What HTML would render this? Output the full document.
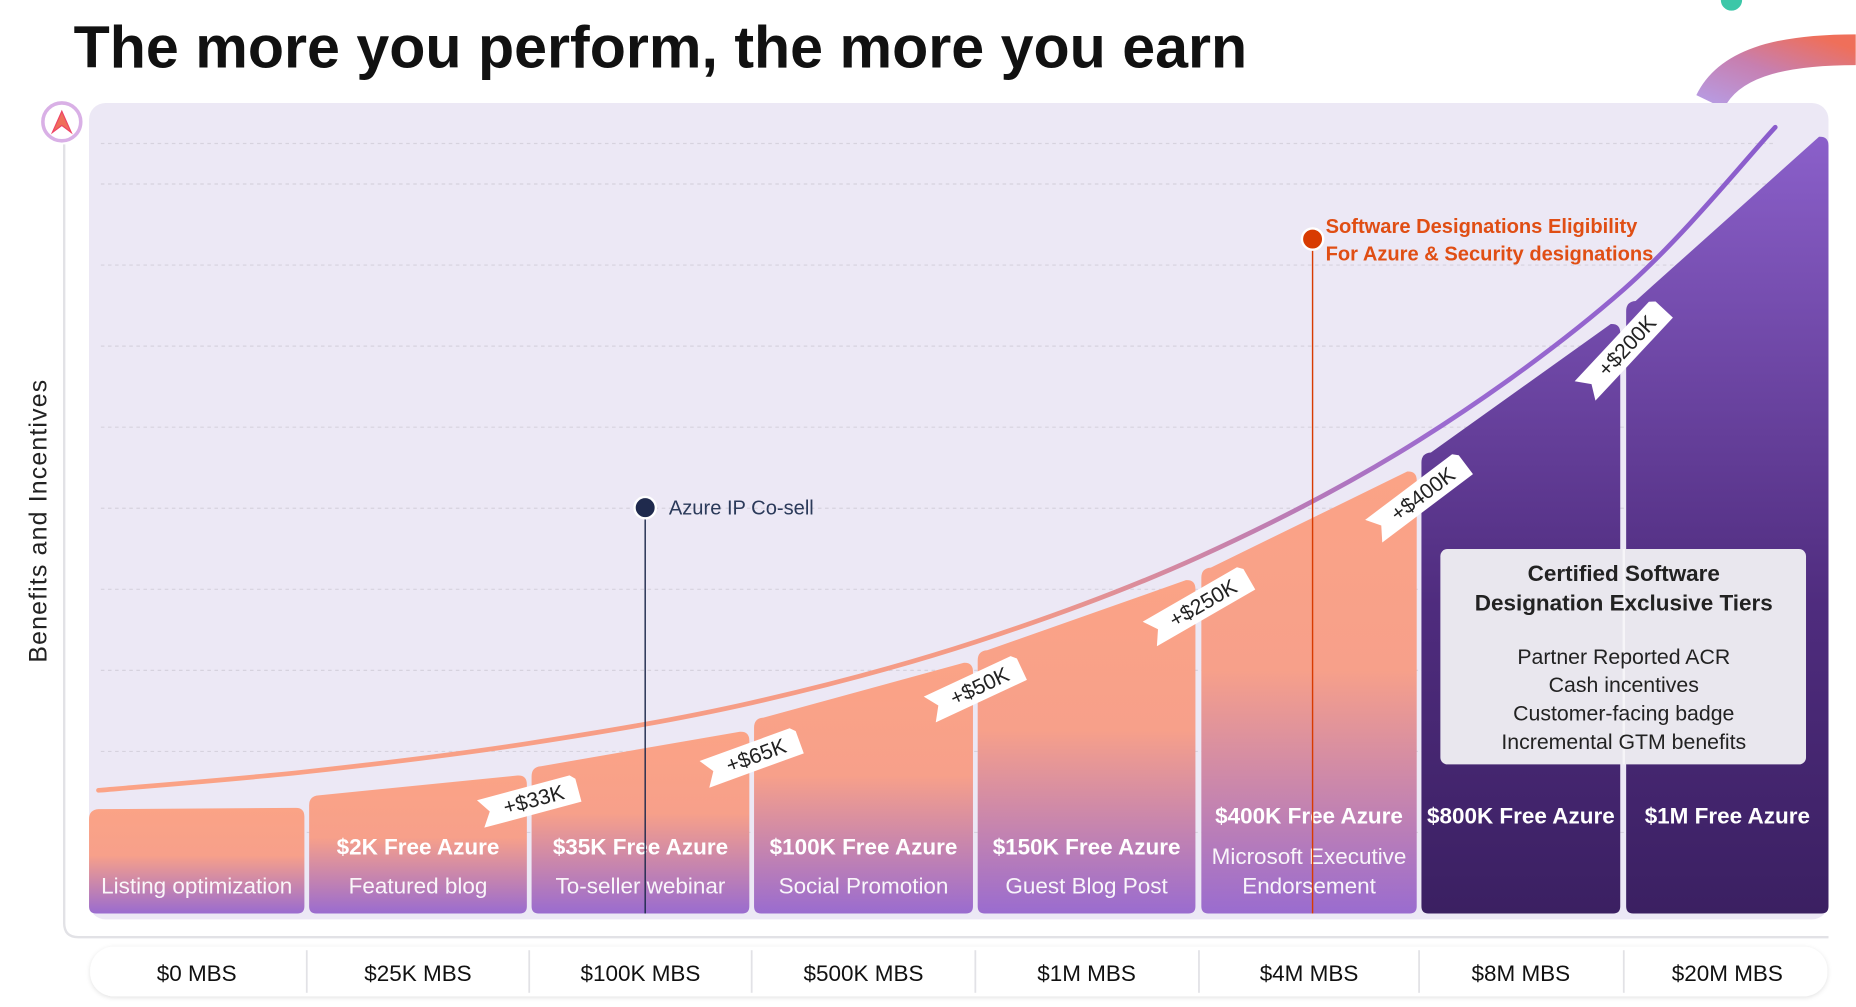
<!DOCTYPE html>
<html><head><meta charset="utf-8"><style>
html,body{margin:0;padding:0;background:#fff;width:1856px;height:1007px;overflow:hidden}
svg text{font-family:"Liberation Sans",sans-serif}
</style></head><body>
<svg id="chart" width="1856" height="1007" viewBox="0 0 1568 851" xmlns="http://www.w3.org/2000/svg">
<defs>
<linearGradient id="gOr" x1="0" y1="0" x2="0" y2="1"><stop offset="0" stop-color="#fba386"/><stop offset="0.45" stop-color="#f7a08a"/><stop offset="1" stop-color="#9a6ccf"/></linearGradient>
<linearGradient id="gPu" gradientUnits="userSpaceOnUse" x1="0" y1="120" x2="0" y2="772"><stop offset="0" stop-color="#8a5fc9"/><stop offset="0.6" stop-color="#4f2c7e"/><stop offset="1" stop-color="#3b2062"/></linearGradient>
<linearGradient id="gLine" gradientUnits="userSpaceOnUse" x1="83" y1="0" x2="1500" y2="0"><stop offset="0" stop-color="#fba386"/><stop offset="0.55" stop-color="#f49a86"/><stop offset="0.8" stop-color="#9b6ad0"/><stop offset="1" stop-color="#8a5ccc"/></linearGradient>
<linearGradient id="gDeco" x1="0" y1="1" x2="1" y2="0"><stop offset="0" stop-color="#b89ae0"/><stop offset="0.5" stop-color="#c77fb0"/><stop offset="1" stop-color="#ef6f5a"/></linearGradient>
<filter id="sh" x="-5%" y="-30%" width="110%" height="160%"><feDropShadow dx="0" dy="1" stdDeviation="2" flood-color="#000" flood-opacity="0.12"/></filter>
</defs>
<text x="62" y="57" font-size="50" font-weight="600" fill="#111">The more you perform, the more you earn</text>
<path d="M1445 86 C1460 55 1500 42 1568 42" stroke="url(#gDeco)" stroke-width="26" fill="none"/>
<circle cx="1463" cy="0" r="9" fill="#3cc7a8"/>
<rect x="75" y="87" width="1470" height="690" rx="14" fill="#ece8f5"/>
<path d="M54 122 L54 780 Q54 792 66 792 L1545 792" stroke="#e2e2e6" stroke-width="2" fill="none"/>
<circle cx="52" cy="103" r="16" fill="#fff" stroke="#d9b0e6" stroke-width="3"/>
<path d="M44 112 L52 94 L60 112 L52 106 Z" fill="#ef6f5a" stroke="#e46" stroke-width="1"/>
<text transform="translate(39,440) rotate(-90)" text-anchor="middle" font-size="21" letter-spacing="1" fill="#222">Benefits and Incentives</text>
<g id="grid"></g><g id="cols"></g><g id="curve"></g><g id="ann"></g><g id="ribbons"></g><g id="xaxis"></g>
<g>
<rect x="1217" y="464" width="309" height="182" rx="6" fill="#e9e7ee"/>
<line x1="1372" y1="464" x2="1372" y2="646" stroke="#fff" stroke-width="2" opacity="0.6"/>
<g text-anchor="middle" fill="#222">
<text x="1372" y="491" font-size="19" font-weight="600">Certified Software</text>
<text x="1372" y="516" font-size="19" font-weight="600">Designation Exclusive Tiers</text>
<text x="1372" y="561" font-size="18">Partner Reported ACR</text>
<text x="1372" y="585" font-size="18">Cash incentives</text>
<text x="1372" y="609" font-size="18">Customer-facing badge</text>
<text x="1372" y="633" font-size="18">Incremental GTM benefits</text>
</g></g>
</svg>
<script>
const tiers=["$0 MBS","$25K MBS","$100K MBS","$500K MBS","$1M MBS","$4M MBS","$8M MBS","$20M MBS"];
const azureCredits=["","$2K Free Azure","$35K Free Azure","$100K Free Azure","$150K Free Azure","$400K Free Azure","$800K Free Azure","$1M Free Azure"];
const benefits=["Listing optimization","Featured blog","To-seller webinar","Social Promotion","Guest Blog Post","Microsoft Executive Endorsement","",""];
const levelLeft=[12.8,14.5,18.1,24.1,32.4,42.6,56.8,75.5];
const levelRight=[13.1,17.1,22.5,31.0,41.2,54.6,72.8,95.9];
const curveLevels=[15.2,17.5,21.0,26.0,33.5,44.0,58.4,77.0,97.0];
const incrementLabels=["+$33K","+$65K","+$50K","+$250K","+$400K","+$200K"];
const gridLevels=[10,20,30,40,50,60,70,80,90,95];
const colEdges=[[75,257],[261,445],[449,633],[637,822],[826,1010],[1015,1197],[1201,1369],[1374,1545]];
const NS="http://www.w3.org/2000/svg";
const y=v=>772-v*6.85;
function mk(t,a,p){const e=document.createElementNS(NS,t);for(const k in a)e.setAttribute(k,a[k]);if(p)p.appendChild(e);return e;}
const grid=document.getElementById('grid');
gridLevels.forEach(v=>{const l=mk('line',{x1:85,x2:1500,y1:y(v),y2:y(v),stroke:'#d6d2de','stroke-dasharray':'3 3','stroke-width':1},grid);

});
const cols=document.getElementById('cols');
tiers.forEach((t,i)=>{const [x0,x1]=colEdges[i];const yl=y(levelLeft[i]),yr=y(levelRight[i]),r=8;
const d=`M${x0} 766 L${x0} ${yl+r} Q${x0} ${yl} ${x0+r} ${yl-0.5} L${x1-r} ${yr+0.5} Q${x1} ${yr} ${x1} ${yr+r} L${x1} 766 Q${x1} 772 ${x1-6} 772 L${x0+6} 772 Q${x0} 772 ${x0} 766Z`;
const p=mk('path',{d,fill:i>=6?'url(#gPu)':'url(#gOr)'},cols);


const cx=(x0+x1)/2;
const lines=[];
if(i===5){lines.push([azureCredits[i],690,1]);lines.push(["Microsoft Executive",724,0]);lines.push(["Endorsement",749,0]);}
else if(i>=6){lines.push([azureCredits[i],690,1]);}
else{if(azureCredits[i])lines.push([azureCredits[i],716,1]);lines.push([benefits[i],749,0]);}
lines.forEach(([s,yy,b])=>{const tx=mk('text',{x:cx,y:yy+6,'text-anchor':'middle','font-size':19,'font-weight':b?600:400,fill:'#fff',opacity:b?1:0.93},cols);tx.textContent=s;

});});
const cv=document.getElementById('curve');
const xs=[83].concat(colEdges.slice(1).map(e=>e[0]-2)).concat([1500]);
const pts=xs.map((x,i)=>[x,y(curveLevels[i])]);
let d=`M${pts[0][0]} ${pts[0][1]}`;
for(let i=0;i<pts.length-1;i++){const p0=pts[Math.max(0,i-1)],p1=pts[i],p2=pts[i+1],p3=pts[Math.min(pts.length-1,i+2)];
const c1=[p1[0]+(p2[0]-p0[0])/6,p1[1]+(p2[1]-p0[1])/6],c2=[p2[0]-(p3[0]-p1[0])/6,p2[1]-(p3[1]-p1[1])/6];
d+=` C${c1[0]} ${c1[1]} ${c2[0]} ${c2[1]} ${p2[0]} ${p2[1]}`;}
const cp=mk('path',{d,stroke:'url(#gLine)','stroke-width':4,fill:'none','stroke-linecap':'round'},cv);


const ann=document.getElementById('ann');
function annot(x,yy,color,lines,tc,name){
const l=mk('line',{x1:x,x2:x,y1:yy,y2:772,stroke:color,'stroke-width':1.2},ann);


const c=mk('circle',{cx:x,cy:yy,r:9,fill:color,stroke:'#fff','stroke-width':2},ann);


lines.forEach((s,k)=>{const t=mk('text',{x:x+11+(tc?0:9),y:yy-(lines.length>1?5:-6)+k*23,'font-size':17,'font-weight':tc?600:500,fill:tc||'#2b3a5a'},ann);t.textContent=s;

});}
annot(545,429,'#1f2a4d',["Azure IP Co-sell"],null,'azure-ip-cosell');
annot(1109,202,'#d83b01',["Software Designations Eligibility","For Azure & Security designations"],'#e04e14','software-designations');
const rb=document.getElementById('ribbons');
const ribbonAngles=[-15,-20,-25,-30,-37,-47];
incrementLabels.forEach((s,i)=>{
const cx=colEdges[i+2][0]-2, cyv=y(levelRight[i+1])+22;
const g=mk('g',{transform:`translate(${cx},${cyv}) rotate(${ribbonAngles[i]})`},rb);


const w=s.length*11+30;
mk('path',{d:`M${-w/2} -12 L${w/2-4} -12 L${w/2} -8 L${w/2} 12 L${-w/2} 12 L${-w/2+8} 0 Z`,fill:'#fff'},g);
const t=mk('text',{x:4,y:6,'text-anchor':'middle','font-size':18,fill:'#222'},g);t.textContent=s;});
const xa=document.getElementById('xaxis');
const bar=mk('rect',{x:76,y:800,width:1468,height:42,rx:20,fill:'#fff',filter:'url(#sh)'},xa);


tiers.forEach((s,i)=>{const [x0,x1]=colEdges[i];
if(i>0){mk('line',{x1:x0-2,x2:x0-2,y1:803,y2:839,stroke:'#e2e2e6','stroke-width':1.5},xa);}
const t=mk('text',{x:(x0+x1)/2,y:829,'text-anchor':'middle','font-size':19,fill:'#111'},xa);t.textContent=s;

});
</script>
</body></html>
